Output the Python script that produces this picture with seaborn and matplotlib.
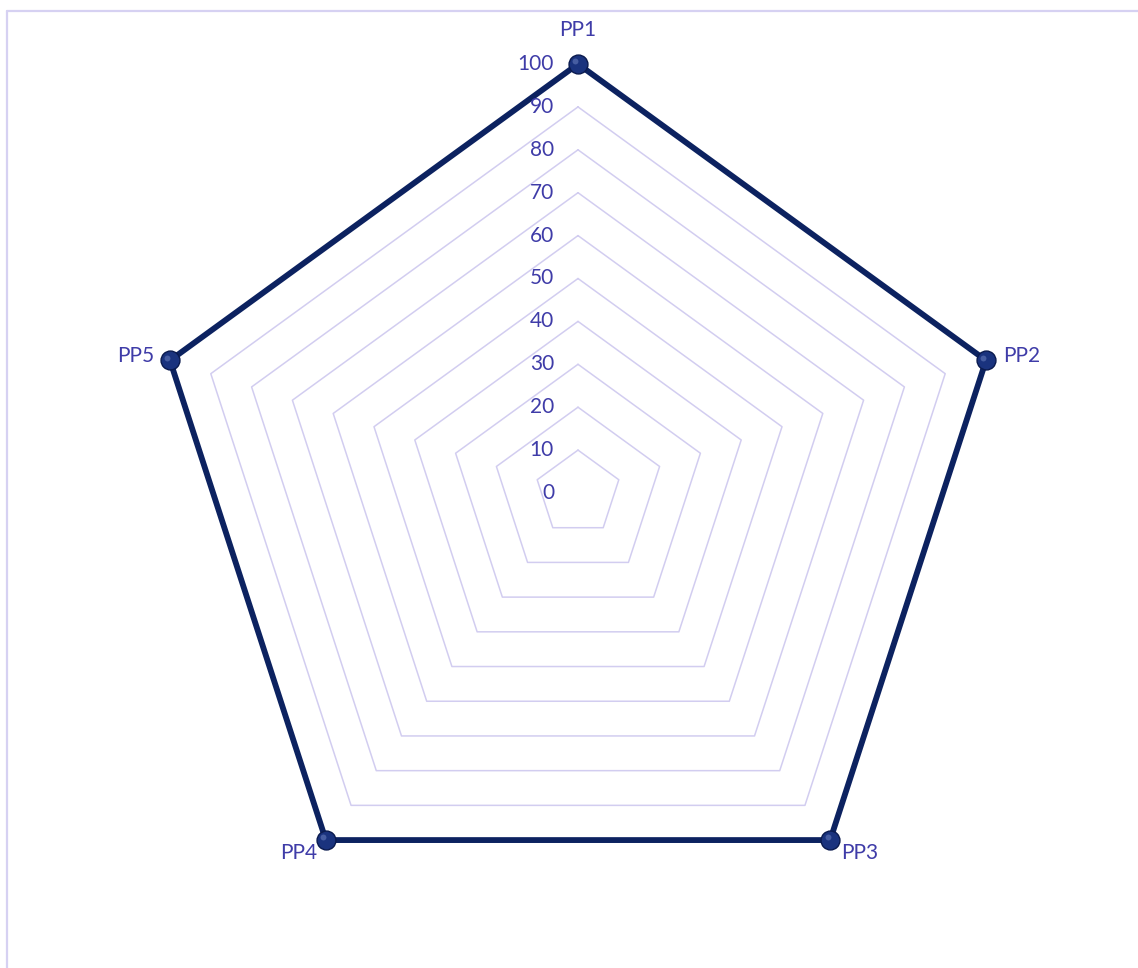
import numpy as np
import pandas as pd
import seaborn as sns
import matplotlib.pyplot as plt
from matplotlib.lines import Line2D

# data
categories = ['PP1', 'PP2', 'PP3', 'PP4', 'PP5']
values = [100, 100, 100, 100, 100]
ring_levels = [10, 20, 30, 40, 50, 60, 70, 80, 90]
tick_labels = ['0', '10', '20', '30', '40', '50', '60', '70', '80', '90', '100']

text_color = '#3f3ca8'
grid_color = '#d2cdf0'
line_color = '#0c2260'

sns.set_theme(style='white')
plt.rcParams['font.family'] = ['Lato', 'DejaVu Sans']

# angles: PP1 on top, going clockwise
angles = np.deg2rad(90 - 72 * np.arange(len(categories)))

def to_xy(r):
    r = np.asarray(r, dtype=float)
    return r * np.cos(angles), r * np.sin(angles)

# gridline rings
rows = []
for lev in ring_levels:
    xs, ys = to_xy([lev] * len(categories))
    for k in list(range(len(categories))) + [0]:
        rows.append({'ring': lev, 'x': xs[k], 'y': ys[k]})
rings = pd.DataFrame(rows)

xs, ys = to_xy(values)
series = pd.DataFrame({'x': np.append(xs, xs[0]), 'y': np.append(ys, ys[0])})
points = pd.DataFrame({'cat': categories, 'x': xs, 'y': ys})

fig = plt.figure(figsize=(11.38, 9.68), dpi=100)
ax = fig.add_axes([0, 0, 1, 1])

sns.lineplot(data=rings, x='x', y='y', units='ring', estimator=None, sort=False,
             color=grid_color, linewidth=1.1, ax=ax)
sns.lineplot(data=series, x='x', y='y', estimator=None, sort=False,
             color=line_color, linewidth=4.2, ax=ax, zorder=3)
sns.scatterplot(data=points, x='x', y='y', s=185, color='#1a337e',
                edgecolor='#0a1a4e', linewidth=1.0, ax=ax, zorder=4)
# small highlight on the spheres
ax.scatter(points['x'] - 0.6, points['y'] + 0.6, s=18, color='#5a6fb0',
           alpha=0.7, linewidth=0, zorder=5)

# value labels along the top axis
for i, lab in enumerate(tick_labels):
    r = i * 10
    ax.annotate(lab, (0, r), xytext=(-24, 0), textcoords='offset pixels',
                ha='right', va='center', fontsize=15, color=text_color)

# category labels
offsets = [(0, 34, 'center'), (17, 4, 'left'), (11, -13, 'left'),
           (-9, -13, 'right'), (-16, 4, 'right')]
for cat, x, y, (dx, dy, ha) in zip(categories, xs, ys, offsets):
    ax.annotate(cat, (x, y), xytext=(dx, dy), textcoords='offset pixels',
                ha=ha, va='center', fontsize=15, color=text_color)

# scale: 100 units -> 429 px, centre at pixel (578, 493)
px = 4.29
ax.set_xlim(-578 / px, (1138 - 578) / px)
ax.set_ylim(-(968 - 493) / px, 493 / px)
ax.set_axis_off()

# chart area border (cropped)
fig.add_artist(Line2D([7 / 1138, 7 / 1138], [0, 1 - 11 / 968],
                      transform=fig.transFigure, color='#d6d1f2', linewidth=1.6))
fig.add_artist(Line2D([7 / 1138, 1], [1 - 11 / 968, 1 - 11 / 968],
                      transform=fig.transFigure, color='#d6d1f2', linewidth=1.6))

fig.savefig('out.png', dpi=100)
